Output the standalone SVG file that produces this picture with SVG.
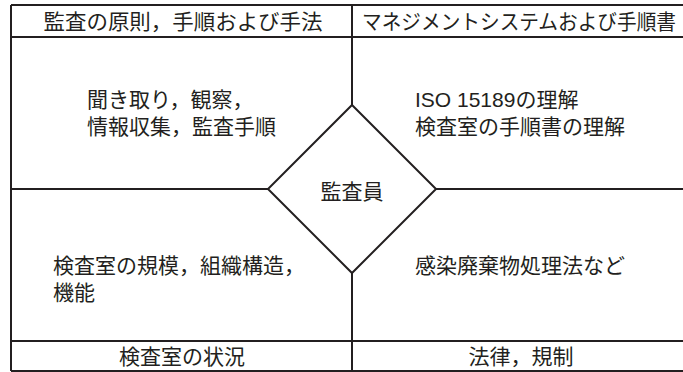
<svg xmlns="http://www.w3.org/2000/svg" width="683" height="372" viewBox="0 0 683 372">
<style>
.ln{stroke:#231f20;stroke-width:2;fill:none}
.t{font-family:"Liberation Sans","Noto Sans CJK JP",sans-serif;font-size:21px;fill:#231f20}
.c{text-anchor:middle}
</style>
<rect x="0" y="0" width="683" height="372" fill="#fff"/>
<g id="connectors">
<path class="ln" d="M11,5 H683 M11,37 H683 M11,341 H683 M11,371 H683 M11,5 V371 M352,5 V105 M352,273 V371 M11,189 H268 M436,189 H683"/>
</g>
<g id="auditor">
<polygon class="ln" points="352,105 436,189 352,273 268,189"/>
<text class="t c" x="352" y="199">監査員</text>
</g>
<g id="header-left"><text class="t c" x="183" y="29" textLength="279" lengthAdjust="spacingAndGlyphs">監査の原則，手順および手法</text></g>
<g id="header-right"><text class="t" x="362" y="29" font-size="20" textLength="314" lengthAdjust="spacingAndGlyphs">マネジメントシステムおよび手順書</text></g>
<g id="top-left"><text class="t" x="87" y="107">聞き取り，観察，</text><text class="t" x="87" y="134">情報収集，監査手順</text></g>
<g id="top-right"><text class="t" x="415" y="107">ISO 15189の理解</text><text class="t" x="415" y="134">検査室の手順書の理解</text></g>
<g id="bottom-left"><text class="t" x="53" y="273">検査室の規模，組織構造，</text><text class="t" x="53" y="300">機能</text></g>
<g id="bottom-right"><text class="t" x="415" y="273">感染廃棄物処理法など</text></g>
<g id="footer-left"><text class="t c" x="182" y="364">検査室の状況</text></g>
<g id="footer-right"><text class="t c" x="521" y="364">法律，規制</text></g>
</svg>
